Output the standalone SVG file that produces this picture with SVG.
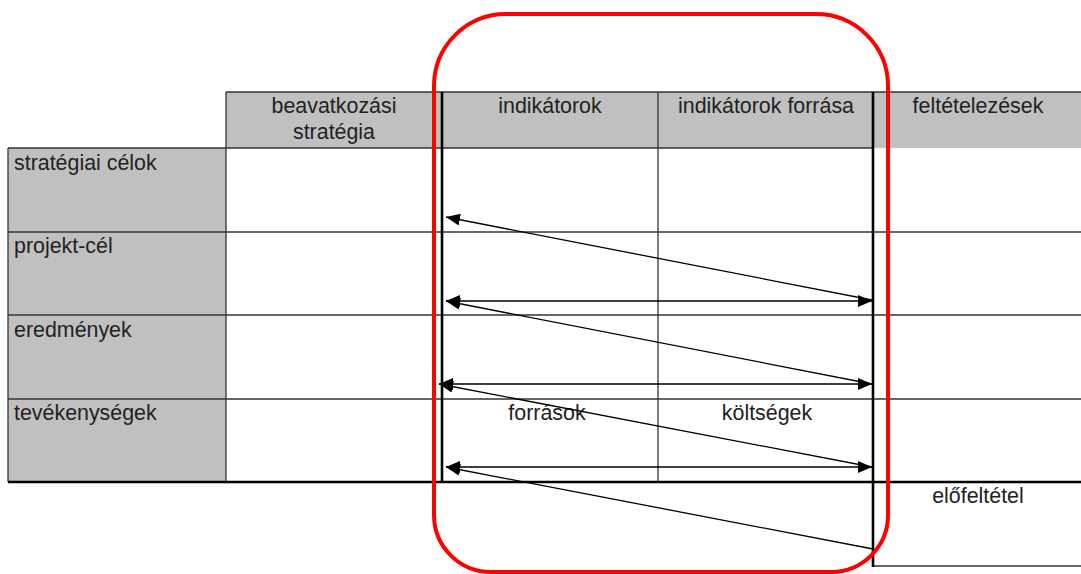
<svg xmlns="http://www.w3.org/2000/svg" width="1081" height="574" viewBox="0 0 1081 574">
<style>
.t{font-family:"Liberation Sans",Arial,sans-serif;font-size:21.4px;fill:#222}
.c{text-anchor:middle}
.gray{fill:#c0c0c0}
.thin{stroke:#333;stroke-width:1.3;fill:none}
.thick{stroke:#000;stroke-width:2.6;fill:none}
.arr{stroke:#000;stroke-width:1.3;fill:none}
</style>
<defs>
<marker id="ah" viewBox="0 0 14 12" refX="14" refY="6" markerWidth="14" markerHeight="12" markerUnits="userSpaceOnUse" orient="auto-start-reverse">
<path d="M0,0 L14,6 L0,12 Z" fill="#000"/>
</marker>
</defs>
<rect width="1081" height="574" fill="#fff"/>
<g id="table">
<rect class="gray" x="226" y="92" width="648" height="56"/>
<rect class="gray" x="874" y="92" width="207" height="56"/>
<rect class="gray" x="8" y="148" width="218" height="334"/>
<line class="thin" x1="226" y1="92" x2="1081" y2="92"/>
<line class="thin" x1="8" y1="148" x2="874" y2="148"/>
<line class="thin" x1="8" y1="232" x2="1081" y2="232"/>
<line class="thin" x1="8" y1="315" x2="1081" y2="315"/>
<line class="thin" x1="8" y1="399" x2="1081" y2="399"/>
<line class="thin" x1="8" y1="148" x2="8" y2="482"/>
<line class="thin" x1="226" y1="92" x2="226" y2="482"/>
<line class="thin" x1="658" y1="92" x2="658" y2="482"/>
<line class="thin" x1="873" y1="566" x2="1081" y2="566"/>
<line class="thick" x1="442" y1="92" x2="442" y2="482"/>
<line class="thick" x1="873" y1="92" x2="873" y2="567"/>
<line class="thick" x1="8" y1="482" x2="1081" y2="482"/>
</g>
<g id="headers">
<text class="t c" x="334" y="113">beavatkozási</text>
<text class="t c" x="334" y="139">stratégia</text>
<text class="t c" x="550" y="113">indikátorok</text>
<text class="t c" x="766" y="113">indikátorok forrása</text>
<text class="t c" x="978" y="113">feltételezések</text>
</g>
<g id="rows">
<text class="t" x="14" y="170">stratégiai célok</text>
<text class="t" x="14" y="253">projekt-cél</text>
<text class="t" x="14" y="337">eredmények</text>
<text class="t" x="14" y="420">tevékenységek</text>
</g>
<g id="cells">
<text class="t c" x="547" y="420">források</text>
<text class="t c" x="767" y="420">költségek</text>
<text class="t c" x="978" y="503">előfeltétel</text>
</g>
<g id="connectors">
<line class="arr" x1="872" y1="300" x2="446" y2="217" marker-end="url(#ah)"/>
<line class="arr" x1="446" y1="301" x2="872" y2="301" marker-start="url(#ah)" marker-end="url(#ah)"/>
<line class="arr" x1="872" y1="384" x2="446" y2="301" marker-end="url(#ah)"/>
<line class="arr" x1="439" y1="384" x2="872" y2="384" marker-start="url(#ah)" marker-end="url(#ah)"/>
<line class="arr" x1="872" y1="467" x2="439" y2="384" marker-end="url(#ah)"/>
<line class="arr" x1="446" y1="467" x2="872" y2="467" marker-start="url(#ah)" marker-end="url(#ah)"/>
<line class="arr" x1="873" y1="549" x2="446" y2="467" marker-end="url(#ah)"/>
</g>
<g id="highlight">
<path d="M506,14 H816 A72,72 0 0 1 888,86 V515 A57,57 0 0 1 831,572 H491 A57,57 0 0 1 434,515 V86 A72,72 0 0 1 506,14 Z" fill="none" stroke="#ff0000" stroke-width="4"/>
</g>
</svg>
